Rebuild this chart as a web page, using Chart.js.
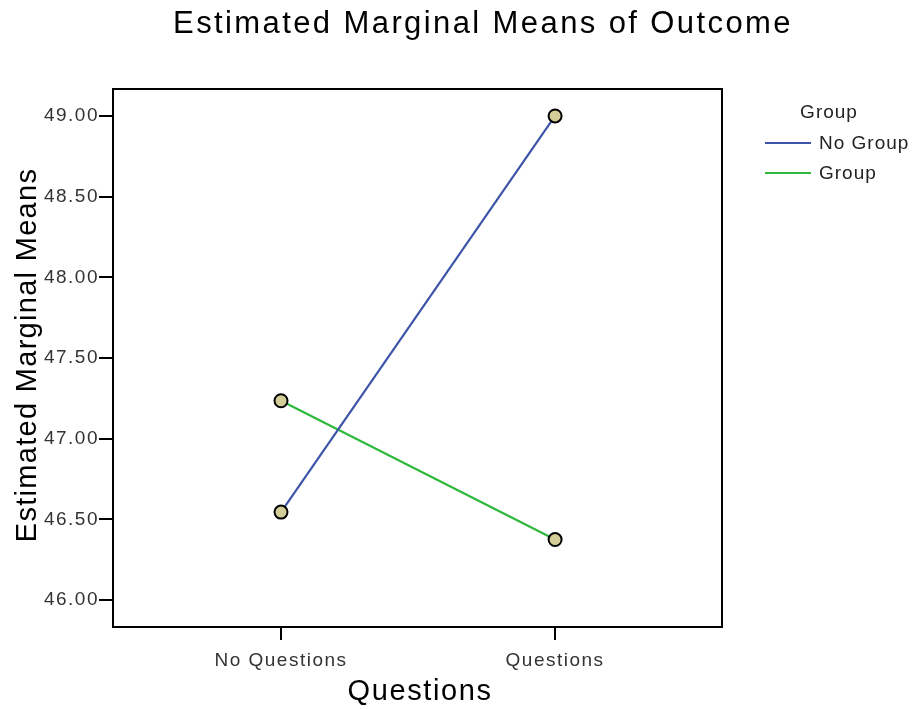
<!DOCTYPE html>
<html><head><meta charset="utf-8">
<script src="https://cdn.jsdelivr.net/npm/chart.js@4/dist/chart.umd.min.js"></script>
<style>html,body{margin:0;padding:0;background:#fff}#wrap{width:917px;height:709px}</style>
</head><body><div id="wrap"><canvas id="c" width="917" height="709"></canvas></div>
<script>
const categories = ["No Questions", "Questions"];
const seriesNames = ["No Group", "Group"];
const noGroupValues = [46.545, 49.0];
const groupValues = [47.235, 46.375];
const yTickValues = [46.0, 46.5, 47.0, 47.5, 48.0, 48.5, 49.0];
const chartTitle = "Estimated Marginal Means of Outcome";
const xTitle = "Questions";
const yTitle = "Estimated Marginal Means";
const legendTitle = "Group";

const FONT = '"Liberation Sans", Arial, sans-serif';
const colors = ['#3c55a8', '#2eb83c'];

function toPoints(vals){ return vals.map((v,i)=>({x:i,y:v})); }

const spacingPlugin = {
  id: 'spacing',
  beforeDraw(chart){ chart.ctx.letterSpacing = '1.5px'; }
};

const textPlugin = {
  id: 'texts',
  afterDraw(chart){
    const ctx = chart.ctx, ca = chart.chartArea;
    ctx.save();
    // frame
    ctx.strokeStyle = '#000'; ctx.lineWidth = 2;
    ctx.strokeRect(ca.left, ca.top, ca.right-ca.left, ca.bottom-ca.top);
    ctx.fillStyle = '#000';
    // title
    ctx.font = '31px ' + FONT;
    ctx.letterSpacing = '2.4px';
    ctx.textAlign = 'center'; ctx.textBaseline = 'middle';
    ctx.fillText(chartTitle, 483, 24);
    // x title
    ctx.font = '29px ' + FONT;
    ctx.letterSpacing = '1.6px';
    ctx.fillText(xTitle, 420, 692);
    // y title
    ctx.save();
    ctx.translate(28, 355);
    ctx.rotate(-Math.PI/2);
    ctx.letterSpacing = '1.3px';
    ctx.fillText(yTitle, 0, 0);
    ctx.restore();
    // legend
    ctx.letterSpacing = '1px';
    ctx.font = '19px ' + FONT;
    ctx.fillStyle = '#222';
    ctx.textAlign = 'center';
    ctx.fillText(legendTitle, 829, 113);
    ctx.textAlign = 'left';
    chart.data.datasets.forEach((ds, i) => {
      const y = 143 + i*30;
      ctx.strokeStyle = ds.borderColor; ctx.lineWidth = 2;
      ctx.beginPath(); ctx.moveTo(765, y); ctx.lineTo(811, y); ctx.stroke();
      ctx.fillStyle = '#222';
      ctx.fillText(ds.label, 819, y+1);
    });
    ctx.restore();
  }
};

new Chart(document.getElementById('c'), {
  type: 'line',
  data: {
    datasets: [
      {label: seriesNames[0], data: toPoints(noGroupValues), borderColor: colors[0], borderWidth: 2.2,
       pointRadius: 6.5, pointBackgroundColor: '#d3cd98', pointBorderColor: '#000', pointBorderWidth: 2},
      {label: seriesNames[1], data: toPoints(groupValues), borderColor: colors[1], borderWidth: 2.2,
       pointRadius: 6.5, pointBackgroundColor: '#d3cd98', pointBorderColor: '#000', pointBorderWidth: 2}
    ]
  },
  options: {
    responsive: false, animation: false,
    layout: {padding: {top: 89, right: 195, left: 0, bottom: 0}},
    plugins: {legend: {display: false}, title: {display: false}, tooltip: {enabled: false}},
    scales: {
      x: {
        type: 'linear', min: -0.613, max: 1.609,
        afterBuildTicks(s){ s.ticks = categories.map((c,i)=>({value:i})); },
        afterFit(s){ s.height = 82; },
        ticks: {callback: (v)=>categories[v], font: {size: 19, family: FONT}, color: '#333', padding: 9, maxRotation: 0},
        grid: {drawOnChartArea: false, drawTicks: true, tickLength: 13, color: '#000', lineWidth: 2},
        border: {display: true, color: '#000', width: 2}
      },
      y: {
        type: 'linear', min: 45.833, max: 49.167,
        afterBuildTicks(s){ s.ticks = yTickValues.map(v=>({value:v})); },
        afterFit(s){ s.width = 113; },
        ticks: {callback: (v)=>v.toFixed(2), font: {size: 19, family: FONT}, color: '#333', padding: 0},
        grid: {drawOnChartArea: false, drawTicks: true, tickLength: 14, color: '#000', lineWidth: 2},
        border: {display: true, color: '#000', width: 2}
      }
    }
  },
  plugins: [spacingPlugin, textPlugin]
});
</script></body></html>
